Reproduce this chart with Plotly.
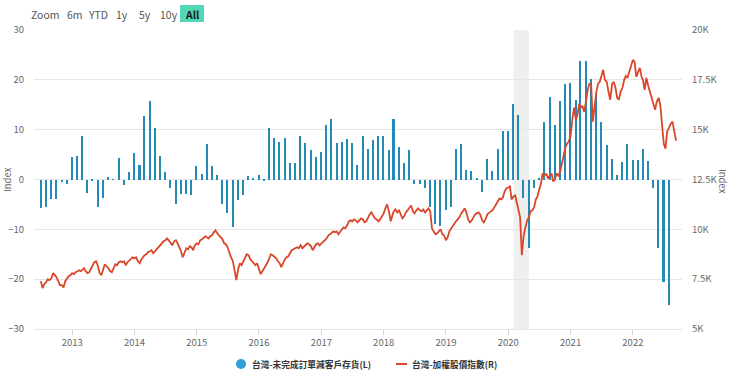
import plotly.graph_objects as go
import pandas as pd

# ---------------- data ----------------
bar_start = "2012-07-01"
backlog_minus_inventory = [
    -5.7, -5.5, -3.9, -3.9, -0.6, -0.9, 4.5, 4.7, 8.7, -2.7, -0.2, -5.5,
    -3.7, 0.6, -0.1, 4.3, -1.1, 1.5, 5.4, 2.9, 12.7, 15.7, 10.3, 4.7,
    1.5, -1.7, -4.9, -3.0, -3.0, -3.1, 2.8, 1.1, 7.2, 2.8, 0.9, -4.9,
    -6.8, -9.5, -4.2, -3.1, 0.7, 0.2, 0.9, -0.2, 10.4, 8.4, 7.5, 8.4,
    3.3, 3.3, 8.8, 7.3, 6.0, 4.5, 5.5, 10.9, 12.2, 7.3, 7.5, 8.1,
    7.3, 2.9, 8.8, 6.2, 7.9, 8.8, 8.8, 5.9, 12.2, 6.5, 3.3, 6.0,
    -1.0, -1.0, -1.7, -5.6, -8.9, -9.4, -6.1, -5.5, 6.1, 7.2, 1.9, 1.7,
    0.2, -2.5, 4.1, 1.7, 6.1, 9.7, 9.7, 15.1, 12.9, -3.7, -13.8, -1.8,
    0.2, 11.6, 16.6, 10.9, 15.7, 19.1, 19.4, 15.9, 23.7, 23.7, 20.1, 17.1,
    11.6, 6.9, 4.2, 0.9, 3.6, 7.2, 3.9, 3.9, 6.1, 3.7, -1.7, -13.8,
    -20.6, -25.1,
]

# TAIEX, three readings per month (around the 1st, 11th and 21st)
taiex_start_month = "2012-07"
taiex_values = [
    [7400, 7050, 7250], [7350, 7500, 7450], [7550, 7800, 7700], [7600, 7400, 7200],
    [7200, 7080, 7400], [7550, 7650, 7700],
    [7800, 7750, 7850], [7900, 7950, 7900], [7950, 8050, 7900], [7800, 7850, 8050],
    [8200, 8350, 8400], [8150, 7800, 7700], [8000, 8250, 8150], [8050, 7900, 7850],
    [8050, 8250, 8200], [8350, 8400, 8350], [8400, 8200, 8350], [8450, 8500, 8600],
    [8550, 8600, 8400], [8300, 8500, 8650], [8700, 8750, 8850], [8900, 8950, 8800],
    [8900, 9000, 9100], [9200, 9300, 9400], [9450, 9550, 9450], [9300, 9200, 9400],
    [9450, 9300, 9100], [8900, 8600, 8800], [9050, 9000, 9150], [9100, 8950, 9200],
    [9300, 9250, 9450], [9500, 9600, 9650], [9600, 9550, 9650], [9700, 9850, 9950],
    [9800, 9700, 9650], [9500, 9300, 9250], [9100, 8800, 8600], [8400, 8000, 7450],
    [8000, 8300, 8200], [8400, 8600, 8750], [8700, 8500, 8400], [8300, 8200, 8300],
    [8000, 7750, 7900], [8100, 8200, 8350], [8600, 8750, 8700], [8600, 8550, 8400],
    [8300, 8100, 8300], [8500, 8600, 8650], [8800, 8950, 9000], [9050, 9100, 9050],
    [9200, 9050, 9150], [9250, 9300, 9250], [9150, 8950, 9100], [9250, 9300, 9200],
    [9300, 9400, 9450], [9550, 9700, 9750], [9800, 9900, 9850], [9900, 9750, 9900],
    [10000, 10100, 10050], [10200, 10400, 10450], [10400, 10500, 10450], [10350, 10450, 10550],
    [10500, 10350, 10400], [10600, 10750, 10850], [10700, 10550, 10500], [10400, 10500, 10650],
    [10800, 11050, 11250], [10900, 10400, 10700], [10900, 11000, 10850], [10950, 10700, 10550],
    [10650, 10850, 10950], [11100, 11200, 10900], [10800, 10950, 11050], [10950, 10900, 11000],
    [10850, 10950, 11050], [10900, 10050, 9900], [9750, 9800, 9900], [10000, 9750, 9700],
    [9450, 9600, 9900], [10050, 10200, 10350], [10400, 10500, 10600], [10800, 10950, 11050],
    [10850, 10500, 10350], [10450, 10600, 10750], [10800, 10850, 10750], [10450, 10350, 10500],
    [10750, 10850, 10900], [10950, 11100, 11300], [11450, 11550, 11500], [11600, 11900, 12050],
    [12100, 12150, 11500], [11650, 11700, 11300], [11100, 10600, 8700], [9700, 10100, 10450],
    [10600, 10900, 10950], [11100, 11500, 11650], [12000, 12300, 12800], [12700, 12800, 12550],
    [12700, 12800, 12400], [12500, 12800, 12700], [12900, 13400, 13700], [14100, 14300, 14400],
    [14700, 15500, 16100], [15500, 15800, 16300], [16100, 16200, 15900], [16400, 17000, 17300],
    [17300, 15400, 16300], [16900, 17300, 17400], [17700, 18000, 17500], [17400, 16900, 16500],
    [17300, 17400, 17100], [16600, 16500, 16900], [17100, 17500, 17700], [17600, 17900, 18150],
    [18500, 18400, 17650], [17900, 18100, 17650], [17500, 17000, 17600], [17200, 16900, 16600],
    [16400, 16000, 16400], [16600, 16200, 15400], [14300, 14050, 14900], [15100, 15300, 15400],
    [14900, 14450],
]

year_ticks = [str(y) for y in range(2013, 2023)]
left_ticks = [-30, -20, -10, 0, 10, 20, 30]
right_ticks = [5000, 7500, 10000, 12500, 15000, 17500, 20000]
right_tick_text = ["5K", "7.5K", "10K", "12.5K", "15K", "17.5K", "20K"]
recession = ("2020-02-01", "2020-05-01")

series_bar_name = "台灣-未完成訂單減客戶存貨(L)"
series_line_name = "台灣-加權股價指數(R)"

# ---------------- build ----------------
bar_dates = pd.date_range(bar_start, periods=len(backlog_minus_inventory), freq="MS")
months = pd.period_range(taiex_start_month, periods=len(taiex_values), freq="M")
line_dates, line_vals = [], []
for m, vals in zip(months, taiex_values):
    for d, v in zip([1, 11, 21], vals):
        line_dates.append(pd.Timestamp(year=m.year, month=m.month, day=d))
        line_vals.append(v)

BAR_COLOR = "#2489b4"
LEGEND_DOT = "#2f9fd4"
LINE_COLOR = "#d9472a"
GRID = "#e6e6e6"
TXT = "#666666"
FONT = "Noto Sans CJK TC, Noto Sans, sans-serif"

W, H = 740, 377
ML, MR, MT, MB = 34, 58, 30, 48
PW, PH = W - ML - MR, H - MT - MB


def px_x(px):
    return (px - ML) / PW


def px_y(py):
    return 1 + (MT - py) / PH


fig = go.Figure()
fig.add_trace(go.Bar(
    x=bar_dates, y=backlog_minus_inventory, name=series_bar_name,
    marker=dict(color=BAR_COLOR, line=dict(width=0)),
    width=9 * 86400000, showlegend=False, yaxis="y",
))
fig.add_trace(go.Scatter(
    x=line_dates, y=line_vals, mode="lines", name=series_line_name,
    line=dict(color=LINE_COLOR, width=1.8), yaxis="y2", showlegend=False,
))

fig.add_shape(type="rect", xref="x", yref="paper",
              x0=recession[0], x1=recession[1], y0=0, y1=1,
              fillcolor="#efefef", line=dict(width=0), layer="below")

fig.update_layout(
    width=W, height=H,
    margin=dict(l=ML, r=MR, t=MT, b=MB, autoexpand=False),
    paper_bgcolor="white", plot_bgcolor="white",
    font=dict(family=FONT, size=9.5, color=TXT),
    bargap=0,
    showlegend=False,
    xaxis=dict(
        type="date", automargin=False,
        range=["2012-05-22", "2022-10-16"],
        tickvals=[f"{y}-01-01" for y in year_ticks], ticktext=year_ticks,
        showgrid=False, showline=True, linecolor=GRID, linewidth=1,
        ticks="outside", ticklen=5, tickcolor="#d0d0d0",
        tickfont=dict(size=9.5, color=TXT), zeroline=False,
    ),
    yaxis=dict(
        range=[-30, 30], tickvals=left_ticks, automargin=False,
        showgrid=True, gridcolor=GRID, gridwidth=1, zeroline=False,
        tickfont=dict(size=9.5, color=TXT), ticklabelstandoff=9,
    ),
    yaxis2=dict(
        range=[5000, 20000], tickvals=right_ticks, ticktext=right_tick_text,
        overlaying="y", side="right", showgrid=False, zeroline=False, automargin=False,
        tickfont=dict(size=9.5, color=TXT), ticklabelstandoff=9,
    ),
)

# legend (drawn to match the reference's compact legend)
LEG_Y = 364
fig.add_shape(type="circle", xref="paper", yref="paper",
              x0=px_x(236), x1=px_x(246), y0=px_y(LEG_Y + 5), y1=px_y(LEG_Y - 5),
              fillcolor=LEGEND_DOT, line=dict(width=0))
fig.add_annotation(text=series_bar_name, xref="paper", yref="paper",
                   x=px_x(250), y=px_y(LEG_Y), xanchor="left", yanchor="middle",
                   showarrow=False, font=dict(size=8.7, color="#333333", weight="bold"))
fig.add_shape(type="line", xref="paper", yref="paper",
              x0=px_x(396), x1=px_x(407), y0=px_y(LEG_Y), y1=px_y(LEG_Y),
              line=dict(color=LINE_COLOR, width=2))
fig.add_annotation(text=series_line_name, xref="paper", yref="paper",
                   x=px_x(410), y=px_y(LEG_Y), xanchor="left", yanchor="middle",
                   showarrow=False, font=dict(size=8.7, color="#333333", weight="bold"))

# axis titles
fig.add_annotation(text="Index", xref="paper", yref="paper", x=px_x(7), y=px_y(180),
                   xanchor="center", yanchor="middle", textangle=-90, showarrow=False,
                   font=dict(size=9.5, color=TXT))
fig.add_annotation(text="Index", xref="paper", yref="paper", x=px_x(723), y=px_y(181),
                   xanchor="center", yanchor="middle", textangle=90, showarrow=False,
                   font=dict(size=9.5, color=TXT))

# range selector row (static)
buttons = [("Zoom", 45.5), ("6m", 75), ("YTD", 98), ("1y", 121.5), ("5y", 145), ("10y", 169)]
for label, px in buttons:
    fig.add_annotation(text=label, xref="paper", yref="paper",
                       x=px_x(px), y=px_y(14),
                       showarrow=False, xanchor="center", yanchor="middle",
                       font=dict(size=10.5, color="#555555"))
fig.add_shape(type="rect", xref="paper", yref="paper",
              x0=px_x(180), x1=px_x(204), y0=px_y(22), y1=px_y(5),
              fillcolor="#52d6b4", line=dict(width=0), layer="above")
fig.add_annotation(text="<b>All</b>", xref="paper", yref="paper",
                   x=px_x(192), y=px_y(14),
                   showarrow=False, xanchor="center", yanchor="middle",
                   font=dict(size=10.5, color="#1a1a1a"))

fig.write_html("out.html", config={"displayModeBar": False},
               post_script="document.body.style.margin='0px';")
